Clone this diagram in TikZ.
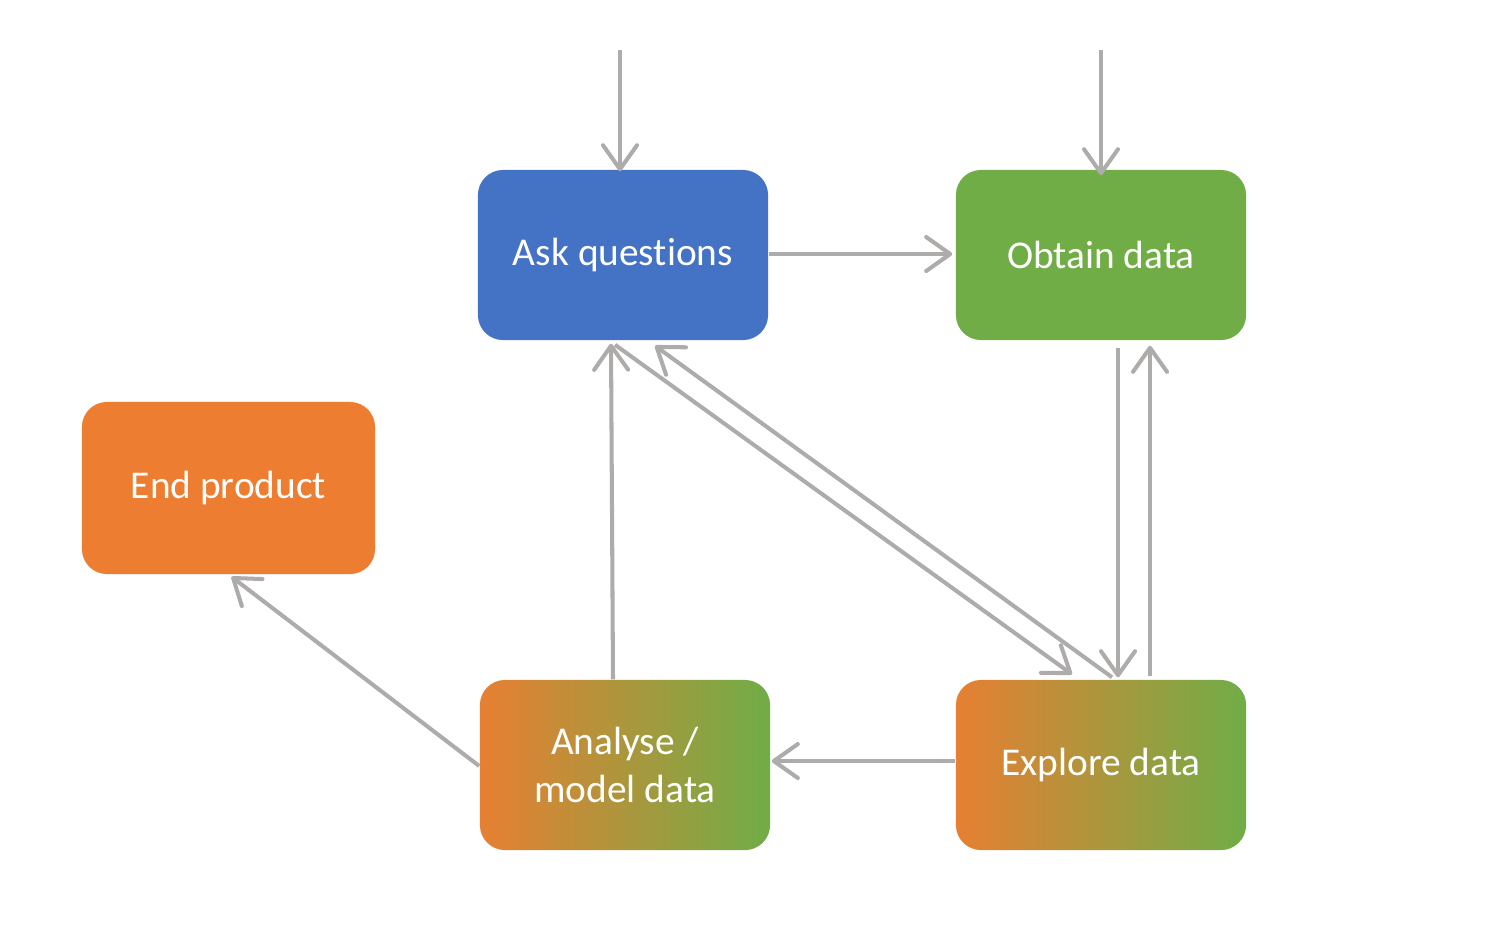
\documentclass[tikz,border=0pt]{standalone}
\usepackage{fontspec}
\setmainfont{Carlito}[Ligatures=NoCommon]
\usetikzlibrary{arrows.meta,calc}
\definecolor{askblue}{HTML}{4472C4}
\definecolor{obgreen}{HTML}{70AD47}
\definecolor{endorange}{HTML}{ED7D31}
\definecolor{arrgray}{HTML}{AEABAB}
\begin{document}
\begin{tikzpicture}[x=0.01cm,y=-0.01cm,
  box/.style={rounded corners=0.25cm, minimum width=2.9cm, minimum height=1.7cm,
    inner sep=0pt, text=white, align=center,
    font=\fontsize{11.2pt}{13.4pt}\selectfont},
  grad/.style={box, left color=endorange!95!obgreen, right color=obgreen},
  conn/.style={draw=arrgray, line width=1.15pt,
    -{Straight Barb[length=0.24cm, width=0.34cm, line width=1.15pt, line cap=round, line join=round]}}]
\useasboundingbox (0,0) rectangle (1494,938);
\node[box, fill=askblue] (ask) at (623,255) {Ask questions};
\node[box, fill=obgreen] (obtain) at (1101,255) {Obtain data};
\node[box, fill=endorange, minimum width=2.93cm, minimum height=1.72cm] (end) at (228.5,488) {End product};
\node[grad] (analyse) at (625,765) {Analyse /\\ model data};
\node[grad] (explore) at (1101,765) {Explore data};
\coordinate (topA) at (620,50);
\coordinate (topO) at (1101,50);
\draw[conn] (topA) -- ($(ask.north -| topA)+(0,2)$);
\draw[conn] (topO) -- ($(obtain.north -| topO)+(0,6)$);
\draw[conn] ($(ask.east)+(0,-1)$) -- ($(obtain.west)+(-3,-1)$);
\draw[conn] ($(obtain.south -| 1118,0)+(0,7)$) -- ($(explore.north -| 1118,0)+(0,-2)$);
\draw[conn] ($(explore.north -| 1150,0)+(0,-3)$) -- ($(obtain.south -| 1150,0)+(0,5)$);
\draw[conn] ($(ask.south)+(-8,4)$) -- ($(explore.north)+(-29,-5)$);
\draw[conn] ($(explore.north)+(11,-2)$) -- ($(ask.south)+(32,5)$);
\draw[conn] ($(analyse.north)+(-12,0)$) -- ($(ask.south)+(-12,3)$);
\draw[conn] ($(explore.west)+(0,-4)$) -- ($(analyse.east)+(1,-4)$);
\draw[conn] ($(analyse.west)+(0,1)$) -- ($(end.south)+(3,2)$);
\end{tikzpicture}
\end{document}
